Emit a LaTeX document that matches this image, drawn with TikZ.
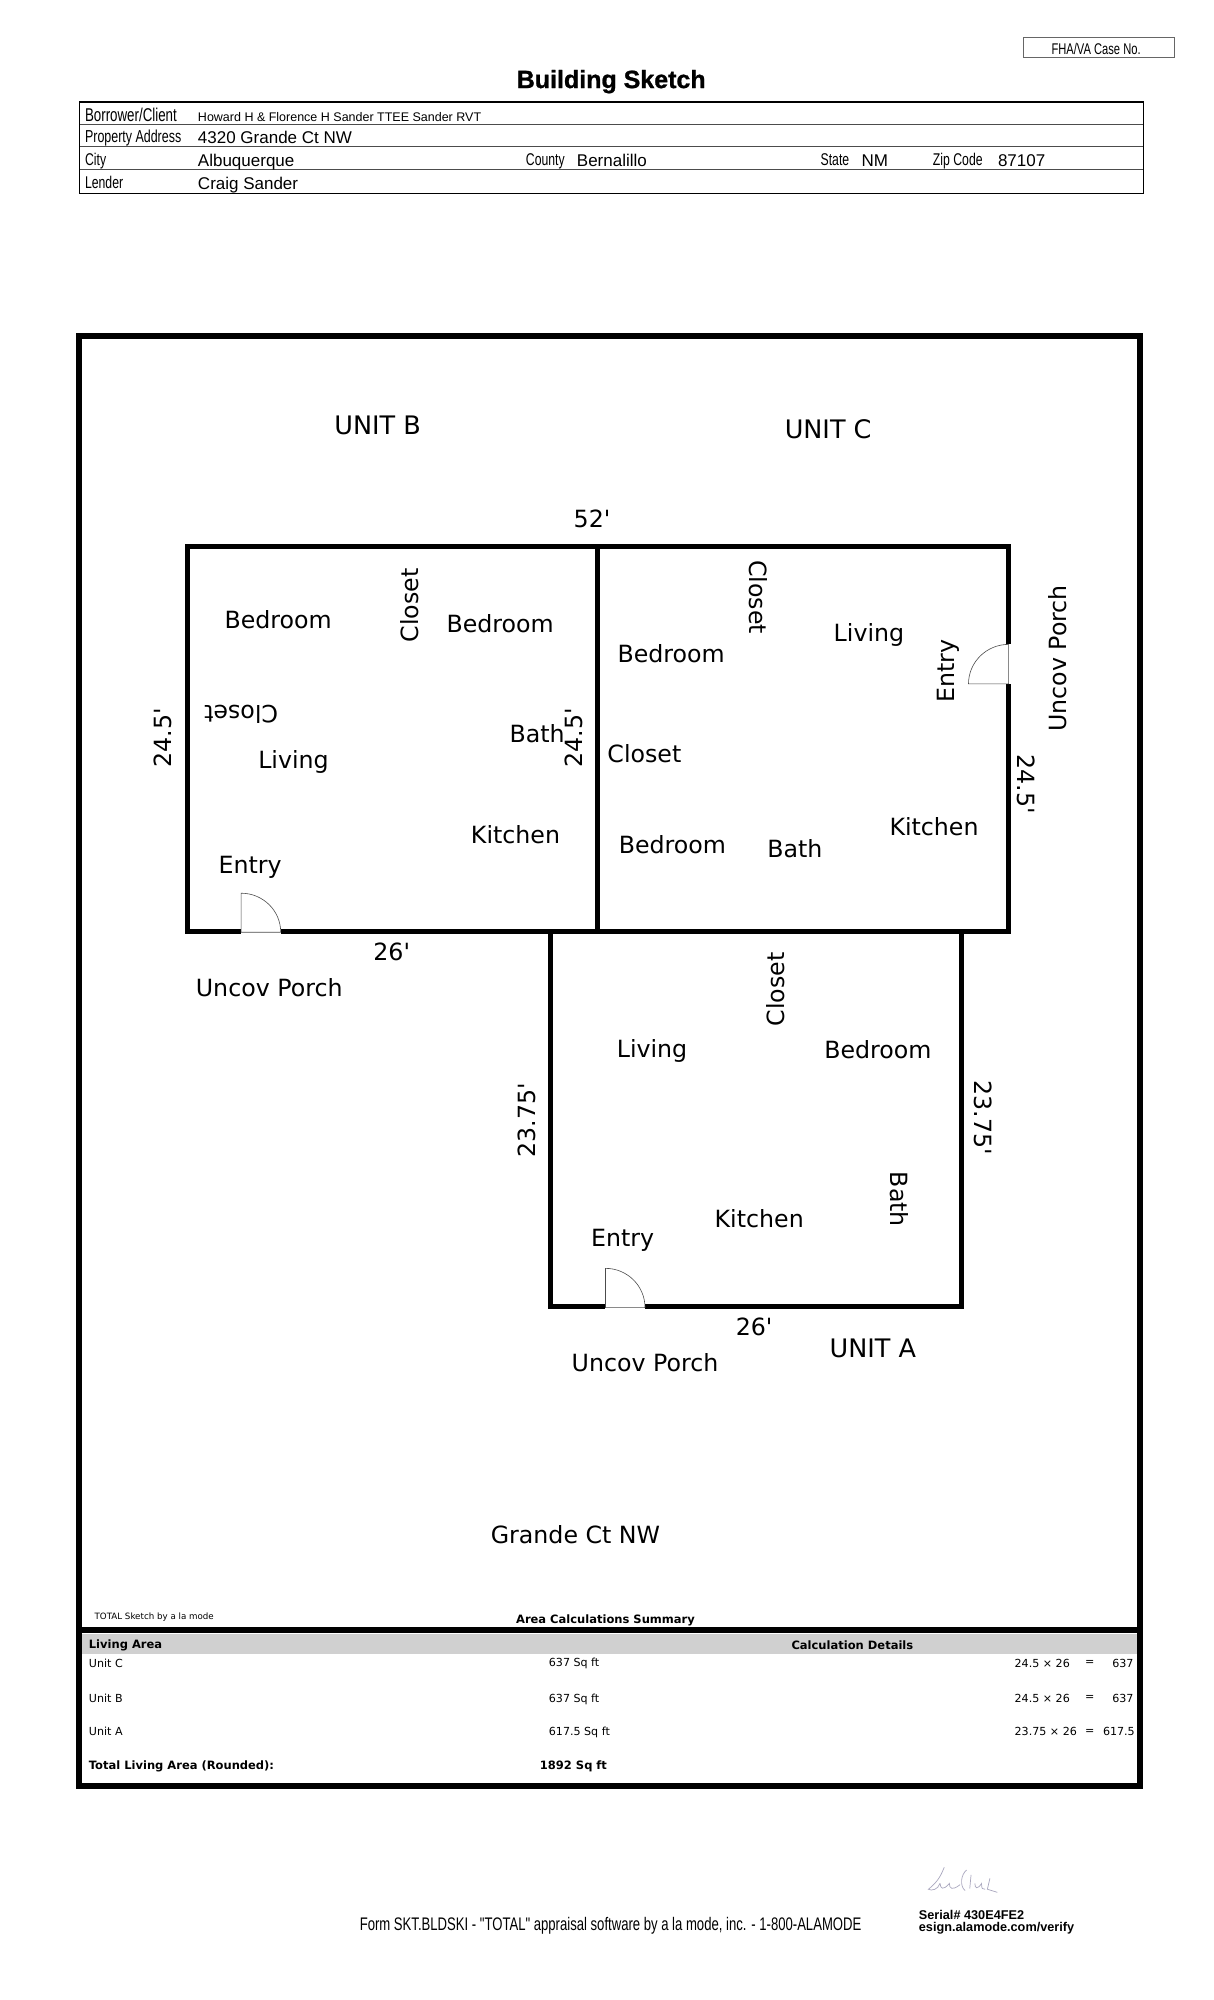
\documentclass[tikz,border=0pt]{standalone}
\usepackage{fontspec}
\usepackage{xcolor}
\setmainfont{DejaVu Sans}
\newfontfamily\formfont[FakeStretch=0.72]{Liberation Sans}
\newfontfamily\plainfont{Liberation Sans}
\newfontfamily\titlefont[BoldFeatures={FakeBold=1}]{Liberation Sans}
\definecolor{bandgray}{HTML}{D0D0D0}
\definecolor{inkgray}{HTML}{A9A7BE}
\newcommand{\ft}{\textquotesingle}
\tikzset{
    room/.style={inner sep=0pt, font=\fontsize{23.7}{23.7}\selectfont},
    unitname/.style={inner sep=0pt, font=\fontsize{25.5}{25.5}\selectfont},
    formlabel/.style={anchor=base west, inner sep=0pt, font=\formfont\fontsize{17}{17}\selectfont},
    formvalue/.style={anchor=base west, inner sep=0pt, font=\plainfont\fontsize{17}{17}\selectfont},
    calc/.style={inner sep=0pt, font=\fontsize{11.1}{11.1}\selectfont},
    calcbold/.style={inner sep=0pt, font=\bfseries\fontsize{11.5}{11.5}\selectfont},
    wall/.style={line width=5pt, line cap=rect},
    door/.style={line width=.6pt, draw=black!70},
    sign/.style={draw=inkgray, line width=.7pt}
}
\begin{document}
\begin{tikzpicture}[x=1.276pt,y=-1.276pt]
    \useasboundingbox (0,0) rectangle (951.4,1567.4);
    \fill[white] (0,0) rectangle (951.4,1567.4);

    \draw[line width=.7pt, draw=black!60] (802,29) rectangle (920,45);
    \node[inner sep=0pt, font=\formfont\fontsize{15.5}{15.5}\selectfont] (caseno) at (859,38) {FHA/VA Case No.};
    \node[inner sep=0pt, font=\titlefont\bfseries\fontsize{25}{25}\selectfont] (title) at (479,64) {Building Sketch};

    \draw[line width=1.3pt] (62.5,80) rectangle (896,151.5);
    \draw[line width=.7pt, draw=black!70] (62.5,97.5) -- (896,97.5);
    \draw[line width=.7pt, draw=black!70] (62.5,115) -- (896,115);
    \draw[line width=.7pt, draw=black!70] (62.5,133) -- (896,133);
    \node[formlabel, font=\formfont\fontsize{18.5}{18.5}\selectfont] (borrower) at (66.5,95) {Borrower/Client};
    \node[formlabel, font=\formfont\fontsize{17.3}{17.3}\selectfont] (address) at (66.5,111.5) {Property Address};
    \node[formlabel] (city) at (66.5,129.5) {City};
    \node[formlabel] (lender) at (66.5,148) {Lender};
    \node[formlabel] (county) at (412,129.5) {County};
    \node[formlabel] (state) at (643,129.5) {State};
    \node[formlabel] (zip) at (731,129.5) {Zip Code};
    \node[formvalue, font=\plainfont\fontsize{12.5}{12.5}\selectfont] (borrowerval) at (155,95) {Howard H \& Florence H Sander TTEE Sander RVT};
    \node[formvalue] (addressval) at (155,112.5) {4320 Grande Ct NW};
    \node[formvalue] (cityval) at (155,130.5) {Albuquerque};
    \node[formvalue] (countyval) at (452,130.5) {Bernalillo};
    \node[formvalue] (stateval) at (675,130.5) {NM};
    \node[formvalue] (zipval) at (782,130.5) {87107};
    \node[formvalue] (lenderval) at (155,148.5) {Craig Sander};

    \fill[bandgray] (64.5,1280.5) rectangle (891,1296);
    \draw[line width=6pt] (62,263) rectangle (893.5,1400);
    \draw[line width=6pt] (62,1277.7) -- (893.5,1277.7);

    \draw[wall] (147,428) rectangle (790.5,730);
    \draw[wall] (468.5,428) -- (468.5,730);
    \draw[wall] (431.5,730) -- (431.5,1023.5) -- (753.5,1023.5) -- (753.5,730);

    \fill[white] (189,700) rectangle (220,733);
    \draw[door] (220,730.6) -- (189,730.6) -- (189,700) arc (-90:0:31 and 30.6);
    \fill[white] (474.5,994) rectangle (505.5,1026.5);
    \draw[door] (505.5,1024.8) -- (474.5,1024.8) -- (474.5,994) arc (-90:0:31 and 30.8);
    \fill[white] (759,505) rectangle (793.5,536);
    \draw[door] (790.5,505) -- (790.5,536) -- (759,536) arc (180:270:31.5 and 31);

    \node[unitname] (unitb) at (296,333) {UNIT B};
    \node[unitname] (unitc) at (649,336) {UNIT C};
    \node[room] (top) at (464,407) {52\ft};
    \node[room] (bedb1) at (218,486) {Bedroom};
    \node[room, rotate=90] (closetb1) at (321,474.5) {Closet};
    \node[room] (bedb2) at (392,489) {Bedroom};
    \node[room, rotate=180] (closetb2) at (189,560) {Closet};
    \node[room] (livingb) at (230,597.5) {Living};
    \node[room] (bathb) at (421,575) {Bath};
    \node[room, rotate=90] (leftb) at (128,578) {24.5\ft};
    \node[room, rotate=90] (rightb) at (450,578) {24.5\ft};
    \node[room] (kitchenb) at (404,654) {Kitchen};
    \node[room] (entryb) at (196,680) {Entry};
    \node[room] (lowerb) at (307,746) {26\ft};
    \node[room] (porchb) at (211,774) {Uncov Porch};

    \node[room, rotate=-90] (closetc1) at (594,468) {Closet};
    \node[room] (livingc) at (681,497.5) {Living};
    \node[room, rotate=90] (entryc) at (743.5,526) {Entry};
    \node[room, rotate=90] (porchc) at (829,516) {Uncov Porch};
    \node[room] (bedc1) at (526,512) {Bedroom};
    \node[room] (closetc2) at (505,591) {Closet};
    \node[room, rotate=-90] (rightc) at (804,614.5) {24.5\ft};
    \node[room] (kitchenc) at (732,648) {Kitchen};
    \node[room] (bedc2) at (527,662) {Bedroom};
    \node[room] (bathc) at (623,665) {Bath};

    \node[room, rotate=90] (closeta) at (608,775.5) {Closet};
    \node[room] (livinga) at (511,824) {Living};
    \node[room] (beda) at (688,823) {Bedroom};
    \node[room, rotate=90] (lefta) at (413,878) {23.75\ft};
    \node[room, rotate=-90] (righta) at (770.5,876) {23.75\ft};
    \node[room, rotate=-90] (batha) at (704.5,940) {Bath};
    \node[room] (kitchena) at (595,955) {Kitchen};
    \node[room] (entrya) at (488,972) {Entry};
    \node[room] (lowera) at (591,1040) {26\ft};
    \node[unitname] (unita) at (684,1057) {UNIT A};
    \node[room] (porcha) at (505.5,1068) {Uncov Porch};
    \node[room] (street) at (451,1203) {Grande Ct NW};

    \node[calc, anchor=west, font=\fontsize{8.7}{8.7}\selectfont] (sketchby) at (74,1267) {TOTAL Sketch by a la mode};
    \node[calcbold] (summary) at (474.5,1270) {Area Calculations Summary};
    \node[calcbold, anchor=west] (livingarea) at (69.5,1289.5) {Living Area};
    \node[calcbold] (details) at (668,1289.5) {Calculation Details};

    \node[calc, anchor=west] (namec) at (69.5,1303.5) {Unit C};
    \node[calc, anchor=west] (nameb) at (69.5,1331) {Unit B};
    \node[calc, anchor=west] (namea) at (69.5,1357) {Unit A};
    \node[calcbold, anchor=west] (total) at (69.5,1384.5) {Total Living Area (Rounded):};
    \node[calc, anchor=west] (areac) at (430,1304) {637 Sq ft};
    \node[calc, anchor=west] (areab) at (430,1331.5) {637 Sq ft};
    \node[calc, anchor=west] (areaa) at (430,1357.5) {617.5 Sq ft};
    \node[calcbold, anchor=west] (areatotal) at (423,1384.5) {1892 Sq ft};
    \node[calc, anchor=west] (sizec) at (795,1303.5) {24.5 × 26};
    \node[calc, anchor=west] (sizeb) at (795,1331) {24.5 × 26};
    \node[calc, anchor=west] (sizea) at (795,1357) {23.75 × 26};
    \node[calc] (eqc) at (854,1303.5) {=};
    \node[calc] (eqb) at (854,1331) {=};
    \node[calc] (eqa) at (854,1357) {=};
    \node[calc, anchor=east] (resc) at (888.5,1303.5) {637};
    \node[calc, anchor=east] (resb) at (888.5,1331) {637};
    \node[calc, anchor=east] (resa) at (889.5,1357) {617.5};

    \draw[sign] (740,1463.4) .. controls (738,1468) and (736,1474) .. (727.6,1480.6) .. controls (730,1482) and (735,1481) .. (736.7,1476);
    \draw[sign] (736.7,1476) .. controls (737,1480) and (739,1482) .. (744,1476) .. controls (744,1480) and (746,1482) .. (752.4,1477);
    \draw[sign] (757.6,1465.5) .. controls (753,1469) and (752,1478) .. (756.3,1481.6);
    \draw[sign] (761,1469.4) -- (760,1480);
    \draw[sign] (764,1476) .. controls (764,1480) and (766,1481) .. (769.3,1476) .. controls (769,1480) and (770,1481) .. (772,1480.6);
    \draw[sign] (775.8,1472) -- (773.8,1480.6) -- (781.6,1483);

    \node[anchor=base west, inner sep=0pt, font=\plainfont\bfseries\fontsize{12.7}{12.7}\selectfont] (serial) at (720,1504) {Serial\# 430E4FE2};
    \node[anchor=base west, inner sep=0pt, font=\plainfont\bfseries\fontsize{12.7}{12.7}\selectfont] (verify) at (720,1514) {esign.alamode.com/verify};
    \node[inner sep=0pt, font=\formfont\fontsize{18.2}{18.2}\selectfont] (footer) at (478.5,1509) {Form SKT.BLDSKI - "TOTAL" appraisal software by a la mode, inc. - 1-800-ALAMODE};
\end{tikzpicture}
\end{document}
